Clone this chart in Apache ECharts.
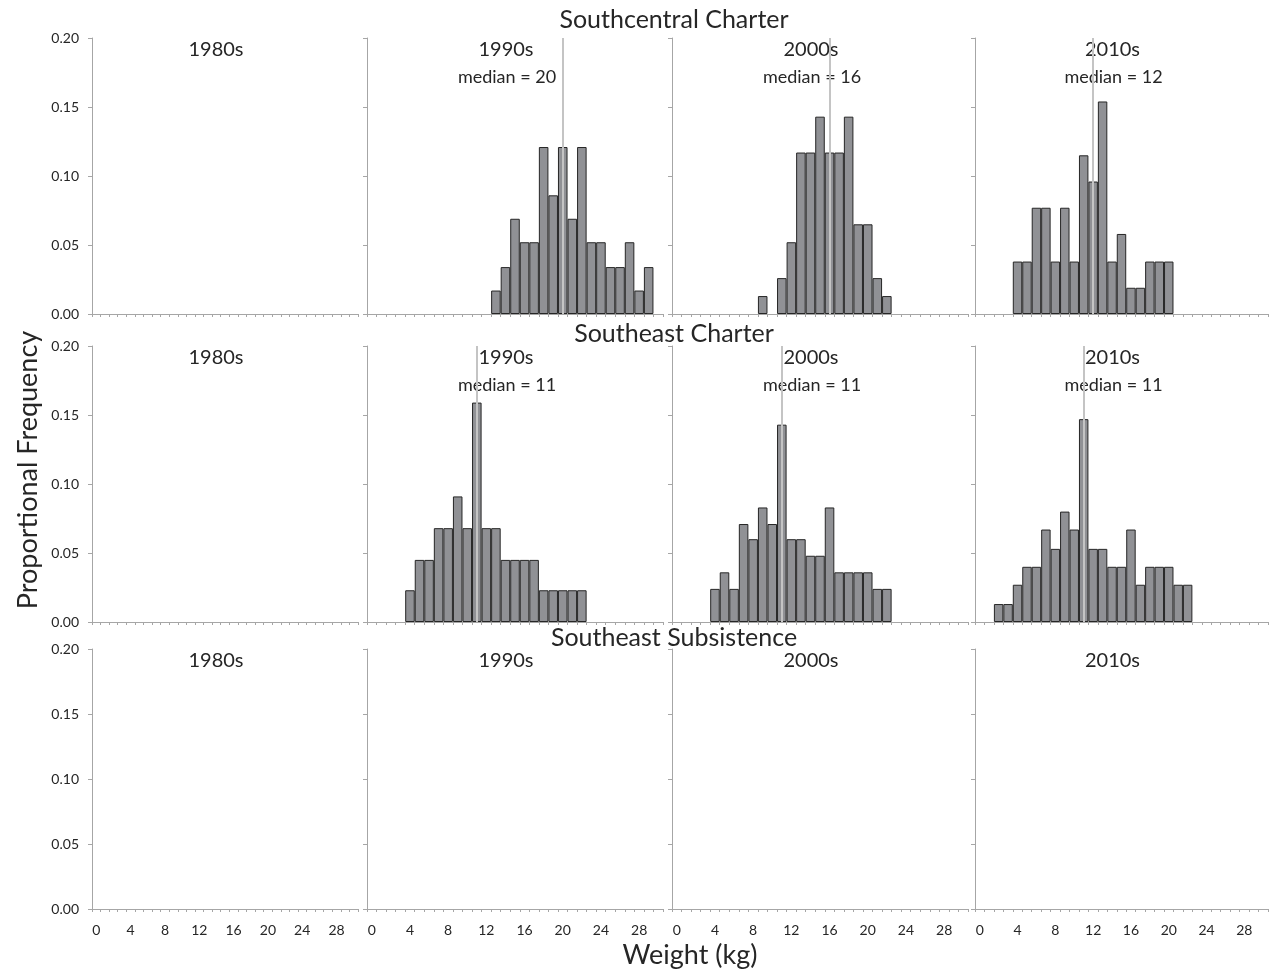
<!DOCTYPE html>
<html>
<head>
<meta charset="utf-8">
<script src="https://cdn.jsdelivr.net/npm/echarts@6/dist/echarts.min.js"></script>
<style>
  html, body { margin: 0; padding: 0; background: #fff; }
  #main { width: 1269px; height: 969px; }
</style>
</head>
<body>
<div id="main"></div>
<script>
// weight classes (kg), one category per kg
var weights = ['0','1','2','3','4','5','6','7','8','9','10','11','12','13','14','15',
  '16','17','18','19','20','21','22','23','24','25','26','27','28','29','30']
var decades = ['1980s', '1990s', '2000s', '2010s']
var regions = ['Southcentral Charter', 'Southeast Charter', 'Southeast Subsistence']

// proportional frequency per weight class (0 = no fish)
var scCharter1990 = [0,0,0,0,0,0,0,0,0,0,0,0,0,
  0.017,0.034,0.069,0.052,0.052,0.121,0.086,0.121,0.069,0.121,0.052,0.052,0.034,0.034,0.052,0.017,0.034,0]
var scCharter2000 = [0,0,0,0,0,0,0,0,0,
  0.013,0,0.026,0.052,0.117,0.117,0.143,0.117,0.117,0.143,0.065,0.065,0.026,0.013,
  0,0,0,0,0,0,0,0]
var scCharter2010 = [0,0,0,0,
  0.038,0.038,0.077,0.077,0.038,0.077,0.038,0.115,0.096,0.154,0.038,0.058,0.019,0.019,0.038,0.038,0.038,
  0,0,0,0,0,0,0,0,0,0]
var seCharter1990 = [0,0,0,0,
  0.023,0.045,0.045,0.068,0.068,0.091,0.068,0.159,0.068,0.068,0.045,0.045,0.045,0.045,0.023,0.023,0.023,0.023,0.023,
  0,0,0,0,0,0,0,0]
var seCharter2000 = [0,0,0,0,
  0.024,0.036,0.024,0.071,0.060,0.083,0.071,0.143,0.060,0.060,0.048,0.048,0.083,0.036,0.036,0.036,0.036,0.024,0.024,
  0,0,0,0,0,0,0,0]
var seCharter2010 = [0,0,
  0.013,0.013,0.027,0.040,0.040,0.067,0.053,0.080,0.067,0.147,0.053,0.053,0.040,0.040,0.067,0.027,0.040,0.040,0.040,0.027,0.027,
  0,0,0,0,0,0,0,0]

var scMedians = [null, 20, 16, 12]
var seMedians = [null, 11, 11, 11]
var ssMedians = [null, null, null, null]

var panels = [
  [null, scCharter1990, scCharter2000, scCharter2010],
  [null, seCharter1990, seCharter2000, seCharter2010],
  [null, null, null, null]
]
var medians = [scMedians, seMedians, ssMedians]

// layout
var colLeft = [92, 367, 672, 975]
var colWidth = [266, 296, 296, 293]
var rowTop = [38, 346, 649]
var rowHeight = [276, 276, 260]
var titleOffset = [-18, -12, -11]
var font = 'Lato, "Noto Sans", sans-serif'
var axisGray = '#a6a6a6'
var ink = '#262626'

var grids = [], xAxes = [], yAxes = [], series = [], texts = []

for (var r = 0; r < 3; r++) {
  for (var c = 0; c < 4; c++) {
    var g = r * 4 + c
    grids.push({ left: colLeft[c], top: rowTop[r], width: colWidth[c], height: rowHeight[r] })
    xAxes.push({
      type: 'category', gridIndex: g, data: weights, boundaryGap: true,
      axisLine: { lineStyle: { color: axisGray, width: 1 } },
      axisTick: { show: true, interval: 0, length: 3, lineStyle: { color: axisGray } },
      axisLabel: { show: r === 2, interval: 3, fontSize: 14, color: ink, fontFamily: font, margin: 14 },
      splitLine: { show: false }
    })
    yAxes.push({
      type: 'value', gridIndex: g, min: 0, max: 0.2, interval: 0.05,
      axisLine: { show: true, lineStyle: { color: axisGray, width: 1 } },
      axisTick: { show: true, length: 4, lineStyle: { color: axisGray } },
      axisLabel: {
        show: c === 0, fontSize: 14, color: ink, fontFamily: font, margin: 13,
        formatter: function (v) { return v.toFixed(2) }
      },
      splitLine: { show: false }
    })

    var d = panels[r][c]
    if (d) {
      series.push({
        type: 'bar', xAxisIndex: g, yAxisIndex: g,
        barCategoryGap: '0%',
        data: d.map(function (v) { return v === 0 ? null : v }),
        itemStyle: { color: '#909195', borderColor: ink, borderWidth: 1 },
        markLine: {
          silent: true, symbol: 'none', label: { show: false },
          lineStyle: { color: '#c4c4c4', width: 2, type: 'solid' },
          data: [{ xAxis: String(medians[r][c]) }]
        }
      })
    }

    var cx = colLeft[c] + colWidth[c] / 2 - 9
    texts.push({
      type: 'text', x: cx, y: rowTop[r] + 12,
      style: { text: decades[c], font: '20px ' + font, fill: ink, align: 'center', verticalAlign: 'middle' }
    })
    if (medians[r][c] != null) {
      texts.push({
        type: 'text', x: cx + 1, y: rowTop[r] + 39,
        style: { text: 'median = ' + medians[r][c], font: '18px ' + font, fill: ink, align: 'center', verticalAlign: 'middle' }
      })
    }
  }
  texts.push({
    type: 'text', x: 674, y: rowTop[r] + titleOffset[r],
    style: { text: regions[r], font: '25px ' + font, fill: ink, align: 'center', verticalAlign: 'middle' }
  })
}

texts.push({
  type: 'text', x: 28, y: 470, rotation: Math.PI / 2,
  style: { text: 'Proportional Frequency', font: '27px ' + font, fill: ink, align: 'center', verticalAlign: 'middle' }
})
texts.push({
  type: 'text', x: 690, y: 955,
  style: { text: 'Weight (kg)', font: '27px ' + font, fill: ink, align: 'center', verticalAlign: 'middle' }
})

var chart = echarts.init(document.getElementById('main'))
chart.setOption({
  animation: false,
  grid: grids,
  xAxis: xAxes,
  yAxis: yAxes,
  series: series,
  graphic: texts
})
</script>
</body>
</html>
